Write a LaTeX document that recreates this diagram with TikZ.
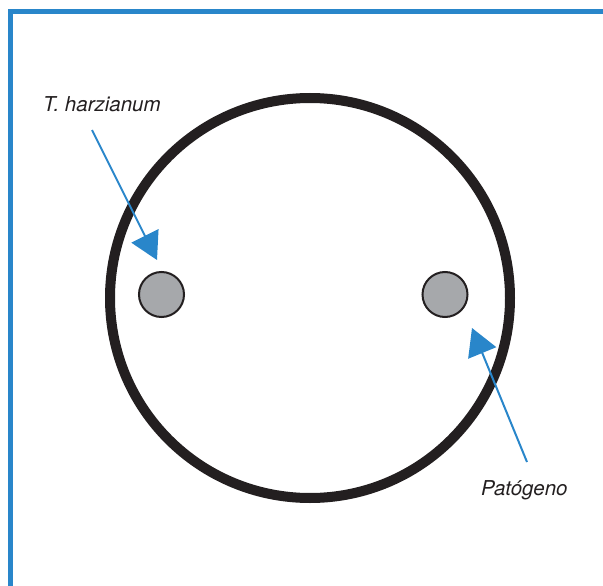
\documentclass[tikz,border=0pt]{standalone}
\usepackage{fontspec}
\setmainfont{TeX Gyre Heros}
\usetikzlibrary{arrows.meta}
\definecolor{frameblue}{RGB}{41,134,202}
\definecolor{ink}{RGB}{35,31,32}
\definecolor{disk}{RGB}{166,168,171}
\tikzset{
  frameline/.style={draw=frameblue, line width=5pt},
  plate/.style={draw=ink, line width=10pt},
  colony/.style={circle, draw=ink, fill=disk, line width=2pt, minimum size=45pt, inner sep=0pt},
  pointer/.style={draw=frameblue, line width=2pt, -{Triangle[length=27pt,width=30pt]}},
  label/.style={font=\itshape\fontsize{20.5}{24}\selectfont, text=ink, inner sep=0pt}
}
\begin{document}
\begin{tikzpicture}[x=1pt, y=-1pt]
\useasboundingbox (0,0) rectangle (603,586);
\draw[frameline] (10.5,586) -- (10.5,11.5) -- (603,11.5);
\draw[plate] (310,298) circle[radius=200];
\node[colony] (tric) at (161.5,294.5) {};
\node[colony] (pato) at (445,294.5) {};
\node[label, anchor=base west] (ltric) at (43,112) {T. harzianum};
\node[label, anchor=base west] (lpato) at (481,495) {Patógeno};
\coordinate (t0) at (92,130);
\coordinate (t1) at (157,260);
\coordinate (p0) at (527,462);
\coordinate (p1) at (472,328);
\draw[pointer] (t0) -- (t1);
\draw[pointer] (p0) -- (p1);
\end{tikzpicture}
\end{document}
